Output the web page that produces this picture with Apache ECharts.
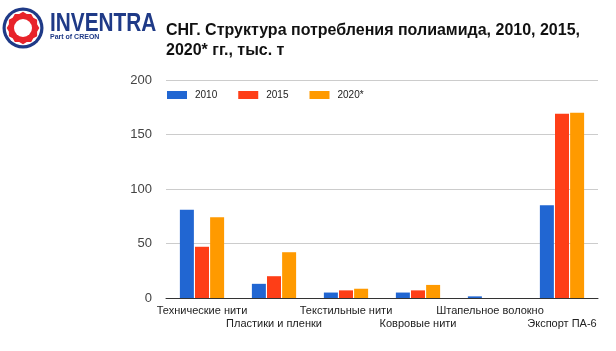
<!DOCTYPE html>
<html>
<head>
<meta charset="utf-8">
<script src="https://cdn.jsdelivr.net/npm/echarts@6/dist/echarts.min.js"></script>
<style>
  html, body { margin: 0; padding: 0; background: #fff; }
  #chart { width: 616px; height: 351px; }
</style>
</head>
<body>
<div id="chart"></div>
<script>
const categories = ['Технические нити', 'Пластики и пленки', 'Текстильные нити', 'Ковровые нити', 'Штапельное волокно', 'Экспорт ПА-6']
const seriesNames = ['2010', '2015', '2020*']
const values2010 = [81, 13, 5, 5, 1.5, 85]
const values2015 = [47, 20, 7, 7, 0, 169]
const values2020 = [74, 42, 8.5, 12, 0, 170]
const yTicks = [0, 50, 100, 150, 200]

const colors = ['#2166d2', '#fe3e17', '#ff9a00']
const navy = '#1f3a87'

// logo gear outline
const gearPoints = []
for (let i = 0; i < 24; i++) {
  const a = (i / 24) * Math.PI * 2
  const r = i % 2 === 0 ? 16.3 : 14.6
  gearPoints.push([23 + r * Math.cos(a), 28 + r * Math.sin(a)])
}

const chart = echarts.init(document.getElementById('chart'))

chart.setOption({
  backgroundColor: '#fff',
  animation: false,
  color: colors,
  title: {
    text: 'СНГ. Структура потребления полиамида, 2010, 2015,\n2020* гг., тыс. т',
    left: 166,
    top: 21,
    padding: 0,
    textStyle: {
      color: '#111',
      fontSize: 16,
      fontWeight: 'bold',
      fontFamily: 'Liberation Sans, Arial, sans-serif',
      lineHeight: 20
    }
  },
  legend: {
    data: seriesNames,
    left: 162,
    top: 85,
    itemWidth: 20,
    itemHeight: 8,
    itemGap: 21,
    icon: 'rect',
    textStyle: {
      color: '#222',
      fontSize: 10,
      fontFamily: 'Liberation Sans, Arial, sans-serif',
      padding: [0, 0, 0, 3]
    }
  },
  grid: {
    left: 166,
    right: 18,
    top: 80,
    bottom: 53
  },
  xAxis: {
    type: 'category',
    data: categories,
    axisTick: { show: false },
    axisLine: { lineStyle: { color: '#333', width: 1 } },
    axisLabel: {
      interval: 0,
      margin: 6,
      color: '#222',
      fontSize: 11,
      lineHeight: 13,
      fontFamily: 'Liberation Sans, Arial, sans-serif',
      formatter: (v, i) => (i % 2 === 1 ? '\n' + v : v)
    }
  },
  yAxis: {
    type: 'value',
    min: yTicks[0],
    max: yTicks[yTicks.length - 1],
    interval: 50,
    axisLine: { show: false },
    axisTick: { show: false },
    splitLine: { lineStyle: { color: '#cccccc' } },
    axisLabel: {
      color: '#444',
      fontSize: 13,
      margin: 14,
      fontFamily: 'Liberation Sans, Arial, sans-serif'
    }
  },
  series: [
    { name: seriesNames[0], type: 'bar', data: values2010, barWidth: 14, barGap: '8%' },
    { name: seriesNames[1], type: 'bar', data: values2015, barWidth: 14, barGap: '8%' },
    { name: seriesNames[2], type: 'bar', data: values2020, barWidth: 14, barGap: '8%' }
  ],
  graphic: [
    { type: 'circle', shape: { cx: 23, cy: 28, r: 20.5 }, style: { fill: navy } },
    { type: 'circle', shape: { cx: 23, cy: 28, r: 17.3 }, style: { fill: '#fff' } },
    { type: 'polygon', shape: { points: gearPoints }, style: { fill: '#e8232a' } },
    { type: 'circle', shape: { cx: 23, cy: 28, r: 9 }, style: { fill: '#fff' } },
    {
      type: 'text',
      x: 50,
      y: 11,
      scaleX: 0.8,
      style: {
        text: 'INVENTRA',
        fill: navy,
        font: 'bold 26px Liberation Sans, Arial, sans-serif'
      }
    },
    {
      type: 'text',
      x: 50,
      y: 34,
      style: {
        text: 'Part of CREON',
        fill: navy,
        font: 'bold 7px Liberation Sans, Arial, sans-serif'
      }
    }
  ]
})
</script>
</body>
</html>
